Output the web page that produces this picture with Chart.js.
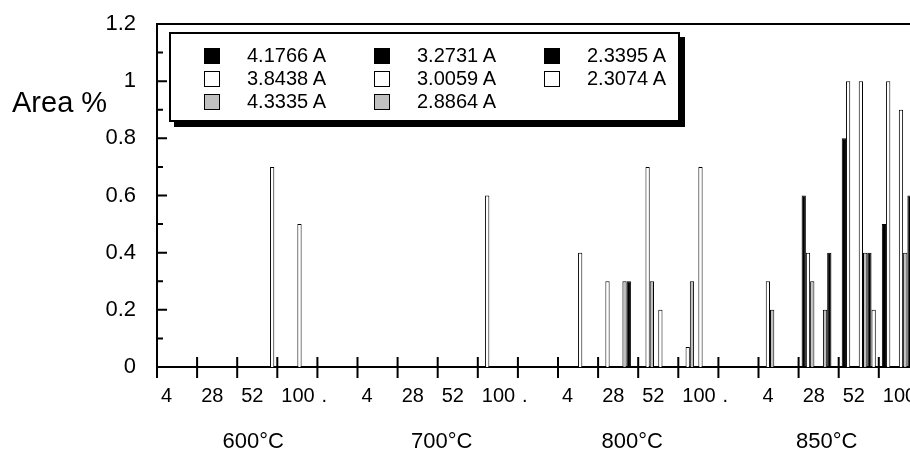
<!DOCTYPE html>
<html>
<head>
<meta charset="utf-8">
<script src="https://cdn.jsdelivr.net/npm/chart.js@4"></script>
<style>
  html, body { margin: 0; padding: 0; background: #fff; overflow: hidden; width: 910px; height: 451px; }
  #wrap { position: relative; width: 1000px; height: 451px; }
  #areaLabel { position: absolute; left: 12px; top: 88px; font: 29px Arial, "Liberation Sans", sans-serif; line-height: 29px; color: #000; }
  #legend {
    position: absolute; left: 169px; top: 32px; width: 511px; height: 90px;
    box-sizing: border-box; border: 2px solid #000; box-shadow: 5px 5px 0 #000; background: #fff;
    padding: 10px 0 0 33px;
    display: grid; grid-template-columns: repeat(3, 170px); grid-template-rows: repeat(3, 23px); grid-auto-flow: column;
    font: 20px Arial, "Liberation Sans", sans-serif; color: #000;
  }
  .item { display: flex; align-items: center; white-space: nowrap; }
  .box { width: 16px; height: 16px; box-sizing: border-box; border: 1.5px solid #000; margin-right: 27px; }
</style>
</head>
<body>
<div id="wrap">
  <canvas id="chart" width="1000" height="451"></canvas>
  <div id="areaLabel">Area %</div>
  <div id="legend"></div>
</div>
<script>
// categorias do eixo x (4 grupos de temperatura)
const categories = [
  "4", "28", "52", "100", ".",
  "4", "28", "52", "100", ".",
  "4", "28", "52", "100", ".",
  "4", "28", "52", "100", "."
];
const groupLabels = ["600°C", "700°C", "800°C", "850°C"];
const yTicks = [0, 0.2, 0.4, 0.6, 0.8, 1, 1.2];

// séries (Area %) - null = sem barra
const s41766 = [null, null, null, null, null, null, null, null, null, null, null, null, null, null, null, null, 0.6, 0.8, 0.5, null];
const s38438 = [null, null, null, null, null, null, null, null, 0.6, null, null, 0.3, 0.7, 0.07, null, 0.3, 0.4, 1.0, 1.0, null];
const s43335 = [null, null, null, null, null, null, null, null, null, null, null, null, 0.3, 0.3, null, 0.2, 0.3, null, null, null];
const s32731 = [null, null, null, null, null, null, null, null, null, null, null, null, null, null, null, null, null, null, null, null];
const s30059 = [null, null, null, 0.5, null, null, null, null, null, null, 0.4, null, 0.2, 0.7, null, null, null, 1.0, 0.9, null];
const s28864 = [null, null, null, null, null, null, null, null, null, null, null, 0.3, null, null, null, null, 0.2, 0.4, 0.4, null];
const s23395 = [null, null, null, null, null, null, null, null, null, null, null, 0.3, null, null, null, null, 0.4, 0.4, 0.6, null];
const s23074 = [null, null, 0.7, null, null, null, null, null, null, null, null, null, null, null, null, null, null, 0.2, null, null];

const BLACK = "#000000";
const WHITE = "#ffffff";
const GRAY = "#c0c0c0";
const FONT = 'Arial, "Liberation Sans", sans-serif';

function serie(label, data, color) {
  return { label, data, backgroundColor: color, borderColor: "#000", borderWidth: 1 };
}

// posição dos rótulos de temperatura (em unidades de categoria)
const groupAnchor = [1.9, 6.6, 11.35, 16.2];

// plugin para ticks internos, moldura e rótulos de grupo
const axisDecor = {
  id: "axisDecor",
  afterDraw(chart) {
    const { ctx, chartArea: a, scales: { x, y } } = chart;
    ctx.save();
    ctx.strokeStyle = "#000";
    ctx.lineWidth = 2;
    ctx.beginPath();
    ctx.moveTo(a.left, a.top);
    ctx.lineTo(a.right, a.top);
    for (let i = 0; i <= 12; i++) {
      const py = y.getPixelForValue(i / 10);
      ctx.moveTo(a.left, py);
      ctx.lineTo(a.left + (i % 2 ? 6 : 10), py);
    }
    for (let i = 0; i <= categories.length; i++) {
      const px = x.getPixelForValue(i - 0.5);
      ctx.moveTo(px, a.bottom - 10);
      ctx.lineTo(px, a.bottom + 11);
    }
    ctx.stroke();
    ctx.fillStyle = "#000";
    ctx.font = "22px " + FONT;
    ctx.textAlign = "center";
    ctx.textBaseline = "alphabetic";
    groupLabels.forEach((t, g) => ctx.fillText(t, x.getPixelForValue(groupAnchor[g]), 448));
    ctx.restore();
  }
};

const chart = new Chart(document.getElementById("chart"), {
  type: "bar",
  data: {
    labels: categories,
    datasets: [
      serie("4.1766 A", s41766, BLACK),
      serie("3.8438 A", s38438, WHITE),
      serie("4.3335 A", s43335, GRAY),
      serie("3.2731 A", s32731, BLACK),
      serie("3.0059 A", s30059, WHITE),
      serie("2.8864 A", s28864, GRAY),
      serie("2.3395 A", s23395, BLACK),
      serie("2.3074 A", s23074, WHITE)
    ]
  },
  options: {
    responsive: false,
    animation: false,
    devicePixelRatio: 1,
    layout: { padding: { top: 24, right: 41, left: 0, bottom: 0 } },
    datasets: { bar: { categoryPercentage: 0.85, barPercentage: 1 } },
    plugins: { legend: { display: false }, tooltip: { enabled: false } },
    scales: {
      x: {
        grid: { display: false, drawTicks: false },
        border: { display: true, color: "#000", width: 2 },
        ticks: {
          color: "#000", font: { size: 20, family: FONT },
          autoSkip: false, maxRotation: 0, minRotation: 0,
          align: "start", labelOffset: -16, padding: 17
        },
        afterFit(scale) { scale.height = 84; scale.paddingLeft = 0; scale.paddingRight = 0; }
      },
      y: {
        min: 0, max: 1.2,
        grid: { display: false, drawTicks: false },
        border: { display: true, color: "#000", width: 2 },
        ticks: { color: "#000", font: { size: 22, family: FONT }, padding: 21, callback: (v) => String(v) },
        afterBuildTicks(scale) { scale.ticks = yTicks.map((v) => ({ value: v })); },
        afterFit(scale) { scale.width = 157; scale.paddingTop = 0; scale.paddingBottom = 0; }
      }
    }
  },
  plugins: [axisDecor]
});

// legenda em HTML (3 linhas, ordem por coluna)
const legend = document.getElementById("legend");
chart.data.datasets.forEach((ds) => {
  const item = document.createElement("div");
  item.className = "item";
  const box = document.createElement("span");
  box.className = "box";
  box.style.background = ds.backgroundColor;
  item.appendChild(box);
  item.appendChild(document.createTextNode(ds.label));
  legend.appendChild(item);
});
</script>
</body>
</html>
